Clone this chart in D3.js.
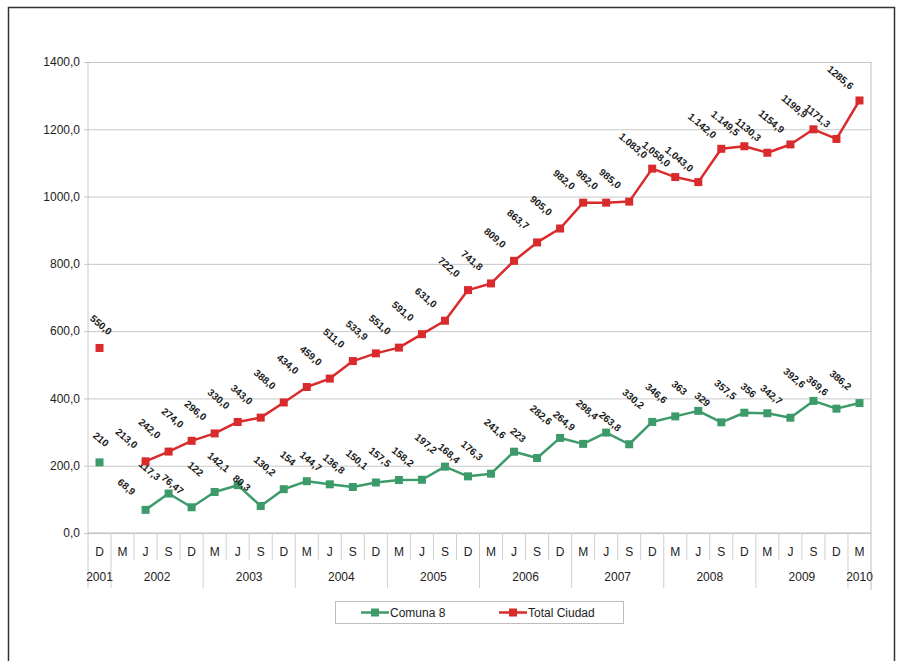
<!DOCTYPE html>
<html><head><meta charset="utf-8">
<script src="https://cdn.jsdelivr.net/npm/d3@7"></script>
<style>body{margin:0;background:#fff} svg{display:block}</style>
</head><body>
<svg id="c" width="900" height="661"></svg>
<script>
// ---- data ----
const periods = ["D","M","J","S","D","M","J","S","D","M","J","S","D","M","J","S","D","M","J","S","D","M","J","S","D","M","J","S","D","M","J","S","D","M"];
const yearLabels = ["2001","2002","2003","2004","2005","2006","2007","2008","2009","2010"];
const yearSpans  = [1,4,4,4,4,4,4,4,4,1];
const comuna8 = [210,null,68.9,117.3,76.47,122,142.1,80.3,130.2,154,144.7,136.8,150.1,157.5,158.2,197.2,168.4,176.3,241.6,223,282.6,264.9,298.4,263.8,330.2,346.6,363,329,357.5,356,342.7,392.6,369.6,386.2];
const comuna8Labels = ["210",null,"68,9","117,3","76,47","122","142,1","80,3","130,2","154","144,7","136,8","150,1","157,5","158,2","197,2","168,4","176,3","241,6","223","282,6","264,9","298,4","263,8","330,2","346,6","363","329","357,5","356","342,7","392,6","369,6","386,2"];
const totalCiudad = [550,null,213,242,274,296,330,343,388,434,459,511,533.9,551,591,631,722,741.8,809,863.7,905,982,982,985,1083,1058,1043,1142,1149.5,1130.3,1154.9,1199.9,1171.3,1285.6];
const totalLabels = ["550,0",null,"213,0","242,0","274,0","296,0","330,0","343,0","388,0","434,0","459,0","511,0","533,9","551,0","591,0","631,0","722,0","741,8","809,0","863,7","905,0","982,0","982,0","985,0","1.083,0","1.058,0","1.043,0","1.142,0","1.149,5","1130,3","1154,9","1199,9","1171,3","1285,6"];
const yTicks = [0,200,400,600,800,1000,1200,1400];
const seriesNames = ["Comuna 8","Total Ciudad"];
const seriesColors = ["#3d9a6a","#d92a2c"];

// ---- layout ----
const svg = d3.select("#c");
const L = 88, R = 871, T = 62, B = 533;
const font = "'Liberation Sans', Arial, sans-serif";

svg.append("rect").attr("x",8.5).attr("y",7.5).attr("width",886).attr("height",662)
  .attr("fill","#fff").attr("stroke","#333").attr("stroke-width",1.5);

const idx = d3.range(periods.length);
const x = d3.scaleBand().domain(idx).range([L, R]).paddingInner(0).paddingOuter(0);
const y = d3.scaleLinear().domain([0,1400]).range([B, T]);
const cx = i => x(i) + x.bandwidth()/2;

// gridlines
const gY = svg.append("g").attr("transform",`translate(${L},0)`)
  .call(d3.axisLeft(y).tickValues(yTicks).tickSize(-(R-L)).tickSizeOuter(0).tickPadding(8)
    .tickFormat(d => d3.format(".1f")(d).replace(".",",")));
gY.select(".domain").remove();
gY.selectAll(".tick line").attr("stroke","#c8c8c8").attr("x1",-4);
gY.selectAll(".tick text").attr("font-family",font).attr("font-size",12).attr("fill","#222");

// axis frame lines
svg.append("line").attr("x1",L).attr("x2",L).attr("y1",T).attr("y2",588).attr("stroke","#c8c8c8");
svg.append("line").attr("x1",R).attr("x2",R).attr("y1",T).attr("y2",590).attr("stroke","#bdbdbd");
svg.append("line").attr("x1",L).attr("x2",R).attr("y1",B).attr("y2",B).attr("stroke","#bdbdbd");

// category ticks (band boundaries)
const yearBounds = [];
let acc = 0; yearSpans.forEach(s => { acc += s; yearBounds.push(acc); });
const gx = svg.append("g");
idx.slice(1).forEach(i => {
  const isYear = yearBounds.includes(i);
  gx.append("line").attr("x1",x(i)).attr("x2",x(i)).attr("y1",B).attr("y2",isYear?588:560)
    .attr("stroke","#d0d0d0");
});
gx.selectAll("text.per").data(idx).join("text").attr("class","per")
  .attr("x",cx).attr("y",556).attr("text-anchor","middle")
  .attr("font-family",font).attr("font-size",12).attr("fill","#222")
  .text(i => periods[i]);
let start = 0;
yearLabels.forEach((lab, k) => {
  const a = x(start), b = x(start + yearSpans[k] - 1) + x.bandwidth();
  gx.append("text").attr("x",(a+b)/2).attr("y",581).attr("text-anchor","middle")
    .attr("font-family",font).attr("font-size",12).attr("fill","#222").text(lab);
  start += yearSpans[k];
});

// series
const series = [
  {vals: comuna8, labels: comuna8Labels, color: seriesColors[0]},
  {vals: totalCiudad, labels: totalLabels, color: seriesColors[1]}
];
const line = d3.line().defined(d => d.v != null).x(d => cx(d.i)).y(d => y(d.v));
series.forEach(s => {
  const pts = s.vals.map((v,i) => ({v,i}));
  svg.append("path").datum(pts).attr("d",line).attr("fill","none")
    .attr("stroke",s.color).attr("stroke-width",2.5).attr("stroke-linejoin","round");
  svg.append("g").selectAll("rect").data(pts.filter(d => d.v != null)).join("rect")
    .attr("x",d => cx(d.i)-4).attr("y",d => y(d.v)-4).attr("width",8).attr("height",8)
    .attr("fill",s.color);
  svg.append("g").selectAll("text").data(pts.filter(d => d.v != null)).join("text")
    .attr("transform",d => {
      const lx = Math.max(cx(d.i) - 19, L + 13);
      const ly = y(d.v) - 23;
      return `translate(${lx},${ly}) rotate(40)`;
    })
    .attr("text-anchor","middle").attr("dominant-baseline","central")
    .attr("font-family",font).attr("font-size",10).attr("font-weight","bold").attr("fill","#1a1a1a")
    .text(d => s.labels[d.i]);
});

// legend
const lg = svg.append("g");
lg.append("rect").attr("x",335.5).attr("y",601.5).attr("width",288).attr("height",22)
  .attr("fill","#fff").attr("stroke","#bdbdbd");
const legX = [361, 499];
seriesNames.forEach((n,k) => {
  lg.append("line").attr("x1",legX[k]).attr("x2",legX[k]+28).attr("y1",612.5).attr("y2",612.5)
    .attr("stroke",seriesColors[k]).attr("stroke-width",2.5);
  lg.append("rect").attr("x",legX[k]+10).attr("y",608.5).attr("width",8).attr("height",8).attr("fill",seriesColors[k]);
  lg.append("text").attr("x",legX[k]+29).attr("y",617).attr("font-family",font).attr("font-size",12)
    .attr("fill","#222").text(n);
});
</script>
</body></html>
